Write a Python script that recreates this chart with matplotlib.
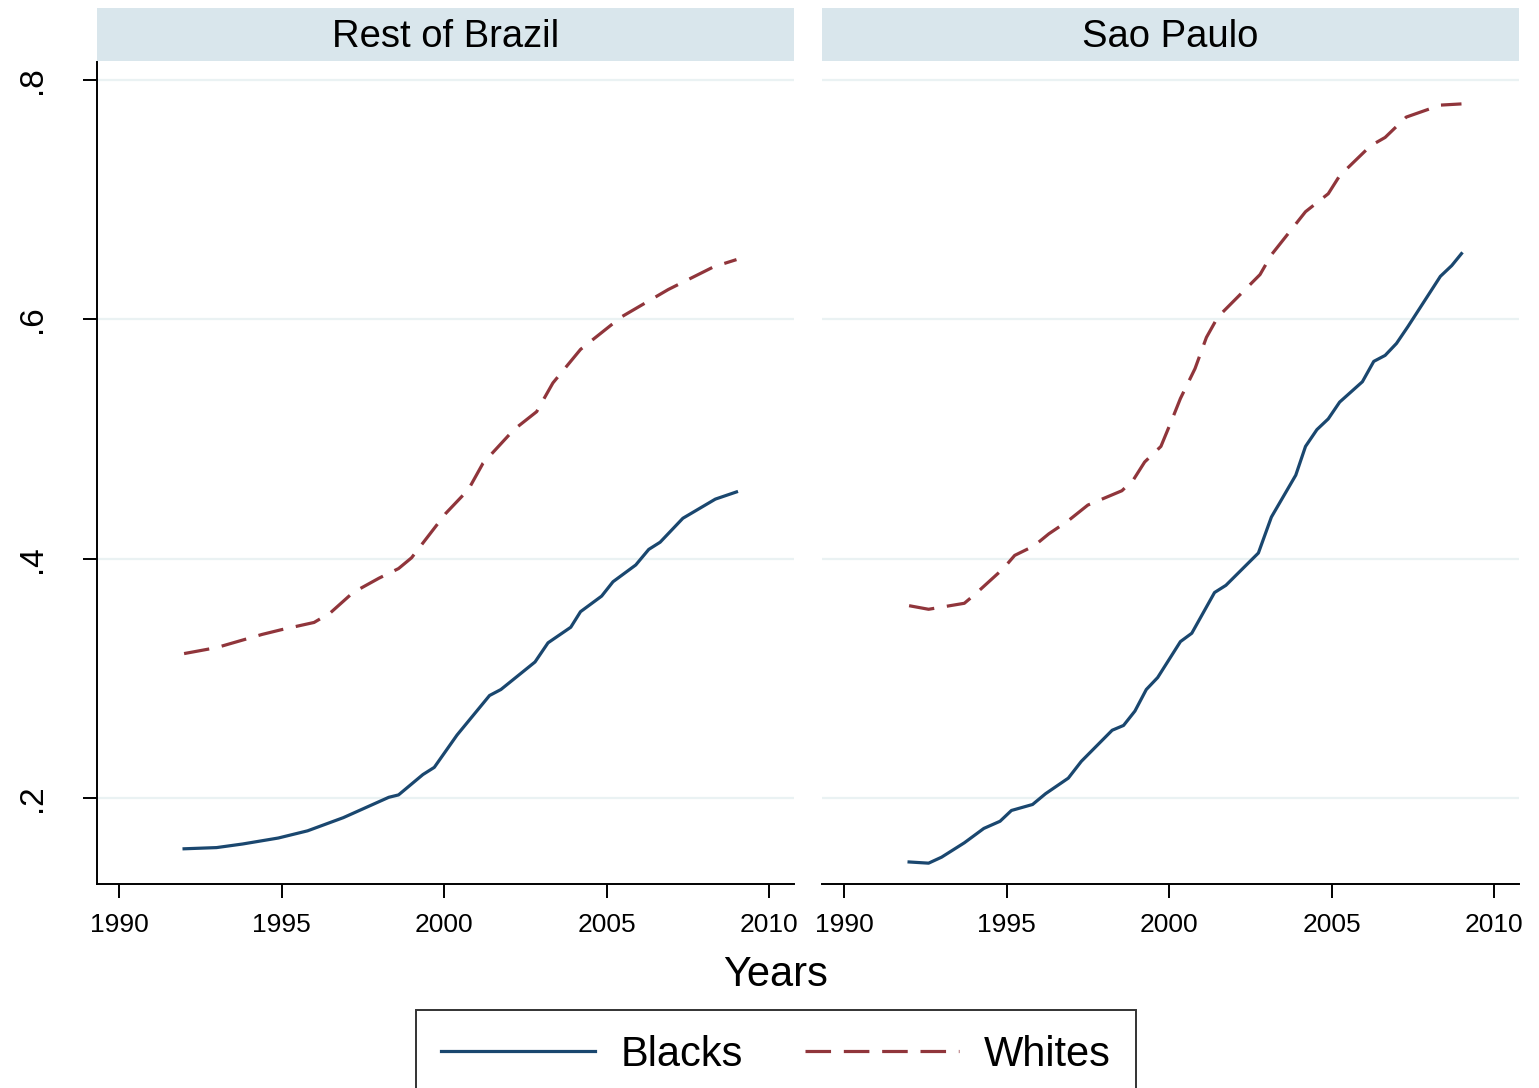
import matplotlib
matplotlib.use("Agg")
import matplotlib.pyplot as plt

plt.rcParams['font.family'] = ['Liberation Sans', 'DejaVu Sans']

panels = ["Rest of Brazil", "Sao Paulo"]

# Rest of Brazil
rb_black_yr = [1992.0, 1993.0, 1993.8, 1994.9, 1995.8, 1996.9, 1998.3, 1998.6, 1999.35,
               1999.7, 2000.4, 2001.4, 2001.75, 2002.8, 2003.2, 2003.9, 2004.2, 2004.85,
               2005.2, 2005.9, 2006.3, 2006.65, 2007.35, 2008.35, 2009.0]
rb_black = [0.158, 0.159, 0.162, 0.167, 0.173, 0.184, 0.201, 0.203, 0.220,
            0.226, 0.253, 0.286, 0.291, 0.314, 0.330, 0.343, 0.356, 0.369,
            0.381, 0.395, 0.408, 0.414, 0.434, 0.450, 0.456]
rb_white_yr = [1992.0, 1993.0, 1994.4, 1995.0, 1996.0, 1996.5, 1997.2, 1998.0, 1998.6,
               1999.0, 2000.05, 2000.75, 2001.2, 2002.15, 2002.85, 2003.35, 2004.2,
               2005.45, 2006.9, 2008.3, 2009.0]
rb_white = [0.321, 0.326, 0.337, 0.341, 0.347, 0.355, 0.372, 0.384, 0.392,
            0.401, 0.438, 0.458, 0.480, 0.508, 0.523, 0.547, 0.575,
            0.602, 0.625, 0.644, 0.650]

# Sao Paulo
sp_black_yr = [1992.0, 1992.6, 1993.0, 1993.7, 1994.3, 1994.8, 1995.15, 1995.8, 1996.2,
               1996.9, 1997.3, 1998.25, 1998.6, 1998.95, 1999.3, 1999.65, 2000.35,
               2000.7, 2001.4, 2001.75, 2002.75, 2003.15, 2003.9, 2004.2, 2004.55,
               2004.9, 2005.25, 2005.95, 2006.3, 2006.65, 2007.0, 2007.35, 2008.35,
               2008.7, 2009.0]
sp_black = [0.147, 0.146, 0.151, 0.163, 0.175, 0.181, 0.190, 0.195, 0.204,
            0.217, 0.231, 0.257, 0.261, 0.273, 0.291, 0.301, 0.331,
            0.338, 0.372, 0.378, 0.405, 0.435, 0.470, 0.494, 0.508,
            0.517, 0.531, 0.548, 0.565, 0.570, 0.580, 0.594, 0.636,
            0.645, 0.655]
sp_white_yr = [1992.0, 1992.6, 1993.7, 1994.05, 1994.9, 1995.25, 1995.85, 1996.3, 1996.9,
               1997.5, 1998.55, 1998.9, 1999.25, 1999.75, 2000.1, 2000.35, 2000.8,
               2001.15, 2001.5, 2002.8, 2003.15, 2004.2, 2004.9, 2005.25, 2006.2,
               2006.65, 2007.3, 2008.35, 2009.0]
sp_white = [0.361, 0.358, 0.363, 0.371, 0.392, 0.403, 0.411, 0.421, 0.432,
            0.445, 0.457, 0.466, 0.481, 0.494, 0.517, 0.534, 0.559,
            0.585, 0.602, 0.6375, 0.654, 0.690, 0.705, 0.720, 0.745,
            0.752, 0.769, 0.779, 0.780]

data = [(rb_black_yr, rb_black, rb_white_yr, rb_white),
        (sp_black_yr, sp_black, sp_white_yr, sp_white)]

xticks = [1990, 1995, 2000, 2005, 2010]
yticks = [0.2, 0.4, 0.6, 0.8]
yticklabels = [".2", ".4", ".6", ".8"]

blue = "#1a476f"
red = "#90353b"
strip_col = "#d9e6ec"
grid_col = "#eaf2f3"

W, H = 1539, 1088
fig = plt.figure(figsize=(W / 100, H / 100), dpi=100)

lefts = [97, 822]
ax_w = 697
ax_top, ax_bot = 62, 884

for i, name in enumerate(panels):
    l = lefts[i]
    ax = fig.add_axes([l / W, 1 - ax_bot / H, ax_w / W, (ax_bot - ax_top) / H])
    byr, bv, wyr, wv = data[i]
    ln_b, = ax.plot(byr, bv, color=blue, lw=2.3, label="Blacks", zorder=3)
    ln_w, = ax.plot(wyr, wv, color=red, lw=2.3, label="Whites", zorder=3)
    ln_w.set_dashes([8, 4])
    ax.set_xlim(1989.32, 2010.77)
    ax.set_ylim(0.1286, 0.815)
    ax.set_yticks(yticks)
    for y in yticks:
        ax.axhline(y, color=grid_col, lw=1.6, zorder=1)
    ax.set_xticks(xticks)
    ax.tick_params(axis='x', length=10, width=1.4, pad=11, labelsize=19)
    for s in ['top', 'right']:
        ax.spines[s].set_visible(False)
    ax.spines['bottom'].set_linewidth(1.4)
    if i == 0:
        ax.set_yticklabels(yticklabels, rotation=90, va='center')
        ax.tick_params(axis='y', length=10, width=1.4, pad=25, labelsize=24)
        ax.spines['left'].set_linewidth(1.4)
    else:
        ax.spines['left'].set_visible(False)
        ax.tick_params(axis='y', left=False, labelleft=False)

    # strip
    sax = fig.add_axes([l / W, 1 - 61 / H, ax_w / W, 53 / H])
    sax.set_facecolor(strip_col)
    sax.set_xticks([])
    sax.set_yticks([])
    for s in sax.spines.values():
        s.set_visible(False)
    sax.text(0.5, 0.45, name, ha='center', va='center', fontsize=27.5,
             transform=sax.transAxes)

fig.text(776 / W, 1 - 975 / H, "Years", ha='center', va='center', fontsize=30)

leg = fig.legend(handles=[ln_b, ln_w], loc='upper center',
                 bbox_to_anchor=(776 / W, 1 - 1010 / H), ncol=2, fontsize=30,
                 frameon=True, fancybox=False, handlelength=3.7,
                 handletextpad=0.6, columnspacing=1.5, borderpad=0.6,
                 borderaxespad=0)
leg.get_frame().set_edgecolor("black")
leg.get_frame().set_linewidth(1.4)

fig.savefig("out.png", dpi=100)
